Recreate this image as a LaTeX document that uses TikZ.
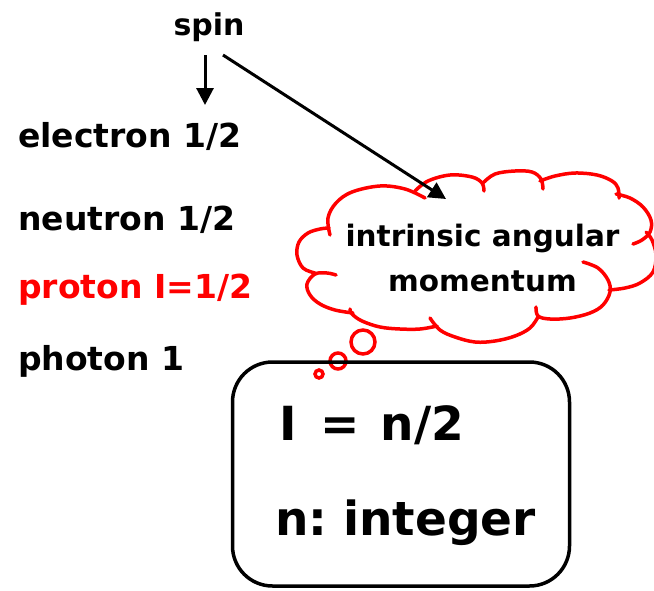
\documentclass[tikz,border=0pt]{standalone}
\usepackage{fontspec}
\setmainfont{DejaVu Sans}
\usetikzlibrary{arrows.meta}
\begin{document}
\begin{tikzpicture}[x=1pt,y=-1pt,
  lbl/.style={font=\fontsize{33}{38}\selectfont\bfseries, inner sep=0pt, anchor=base west},
  big/.style={font=\fontsize{47}{56}\selectfont\bfseries, inner sep=0pt, anchor=base west},
  conn/.style={line width=3pt, -{Triangle[length=17pt,width=17pt]}},
  puff/.style={draw=red, line width=3.5pt, line cap=round},
  bub/.style={draw=red, line width=3.5pt, fill=white}]
\useasboundingbox (0,0) rectangle (654,590);
% labels
\node[font=\fontsize{30}{34}\selectfont\bfseries, inner sep=0pt, anchor=base] (spin) at (209,35) {spin};
\node[lbl] (el) at (18,147) {electron 1/2};
\node[lbl] (ne) at (18,230) {neutron 1/2};
\node[lbl, text=red] (pr) at (18,298) {proton I=1/2};
\node[lbl] (ph) at (18,370) {photon 1};
% cloud outline (puffs with inner ticks)
\draw[puff] plot[smooth, tension=0.6] coordinates {(330,235) (328,218) (336,203) (352,192) (380,186) (405,189) (425,198)};
\draw[puff] plot[smooth, tension=0.6] coordinates {(415,191) (428,181) (450,175) (472,177) (482,183) (484,191)};
\draw[puff] plot[smooth, tension=0.6] coordinates {(483,183) (495,174) (515,171) (532,172) (541,179) (543,189)};
\draw[puff] plot[smooth, tension=0.6] coordinates {(540,181) (555,176) (575,173) (597,175) (612,181) (618,188) (619,198)};
\draw[puff] plot[smooth, tension=0.6] coordinates {(616,194) (630,198) (643,207) (651,220) (650,232) (642,240) (633,244)};
\draw[puff] plot[smooth, tension=0.6] coordinates {(646,232) (652,240) (656,255) (653,272) (640,283) (625,288) (609,290)};
\draw[puff] plot[smooth, tension=0.6] coordinates {(583,262) (598,268) (608,280) (610,292) (603,305) (590,313) (570,318) (550,319) (538,316) (536,307)};
\draw[puff] plot[smooth, tension=0.6] coordinates {(538,317) (530,328) (515,336) (495,341) (475,342) (455,337) (440,330) (430,318)};
\draw[puff] plot[smooth, tension=0.6] coordinates {(437,326) (420,329) (400,329) (380,327) (362,321) (352,314) (350,309)};
\draw[puff] plot[smooth, tension=0.6] coordinates {(353,313) (335,310) (320,304) (310,295) (307,284) (315,274) (327,273) (336,275)};
\draw[puff] plot[smooth, tension=0.6] coordinates {(315,273) (303,268) (297,255) (299,242) (308,233) (320,229) (329,228)};
\node[font=\fontsize{29.5}{45}\selectfont\bfseries, align=center, inner sep=0pt] (ct) at (482.5,258.3) {intrinsic angular\\momentum};
% thought bubbles
\node[circle, bub, minimum size=24pt, inner sep=0pt] (b1) at (363,342) {};
\node[circle, bub, minimum size=16pt, inner sep=0pt] (b2) at (338,361) {};
\node[circle, bub, minimum size=8pt, inner sep=0pt] (b3) at (319,374) {};
% box
\node[draw, line width=3.5pt, rounded corners=40pt, minimum width=337pt, minimum height=224pt, inner sep=0pt] (box) at (401,474) {};
\node[big] (eq) at (275,440) {\makebox[27pt][c]{I}\hspace{18pt}=\hspace{21pt}n/2};
\node[big] (int) at (275,535) {n:\,\,integer};
% connectors
\coordinate (s1) at (205,55);
\coordinate (s2) at (223,55);
\coordinate (t1) at (205,105);
\coordinate (t2) at (446,199);
\draw[conn] (s1) -- (t1);
\draw[conn] (s2) -- (t2);
\end{tikzpicture}
\end{document}
